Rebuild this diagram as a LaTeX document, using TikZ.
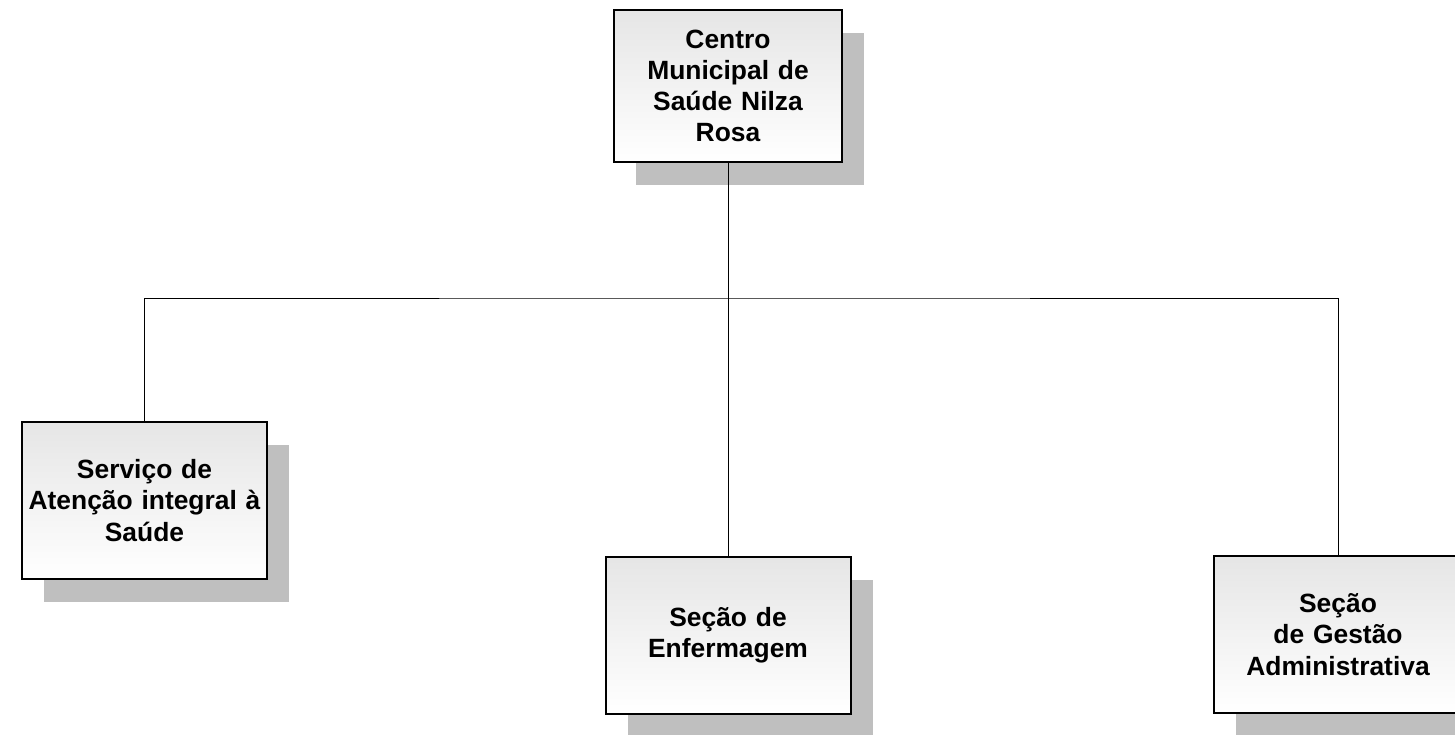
\documentclass[tikz,border=0pt]{standalone}
\usepackage{fontspec}
\setmainfont{Liberation Sans}
\usetikzlibrary{shadows}
\tikzset{
  unitbox/.style={draw=black, line width=1pt, minimum width=122.5pt, minimum height=78.5pt,
    text width=120pt, align=center, inner sep=0pt, top color=black!10, bottom color=white,
    drop shadow={shadow xshift=11pt, shadow yshift=-11.5pt, fill=black!25, opacity=1},
    font=\fontsize{13.2}{15.6}\selectfont\bfseries},
  link/.style={draw=black, line width=0.5pt}
}
\begin{document}
\begin{tikzpicture}[x=0.5pt,y=-0.5pt]
\useasboundingbox (0,0) rectangle (1455,734);
\node[unitbox, minimum width=114pt, minimum height=76pt, text width=110pt] (centro) at (728,86) {Centro\\Municipal de\\Saúde Nilza\\Rosa};
\node[unitbox] (servico) at (144.5,500.5) {Serviço de\\Atenção integral à\\Saúde};
\node[unitbox] (enferm) at (728,635) {Seção de\\Enfermagem};
\node[unitbox, minimum width=124pt] (gestao) at (1338,634.5) {Seção\\de Gestão\\Administrativa};
\coordinate (bus) at (728,298);
\draw[link] (centro) -- (enferm);
\draw[link] (servico) |- (bus) -| (gestao);
\end{tikzpicture}
\end{document}
